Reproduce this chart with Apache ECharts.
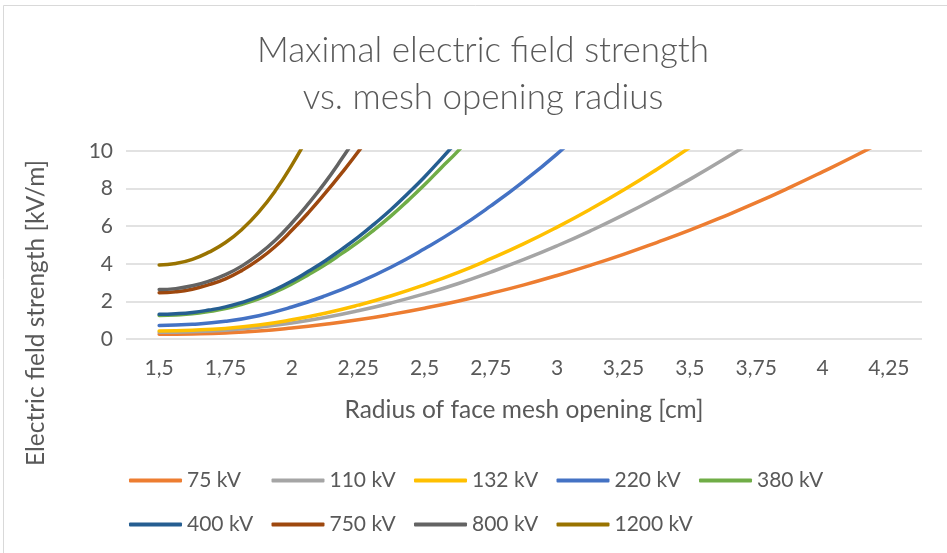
<!DOCTYPE html>
<html>
<head>
<meta charset="utf-8">
<script src="https://cdn.jsdelivr.net/npm/echarts@6/dist/echarts.min.js"></script>
<style>
  html, body { margin: 0; padding: 0; background: #ffffff; }
  #chart { width: 947px; height: 553px; }
</style>
</head>
<body>
<div id="chart"></div>
<script>
// Radius of the face mesh opening [cm] -> maximal field strength [kV/m]
const radiusTicks = [1.5, 1.75, 2, 2.25, 2.5, 2.75, 3, 3.25, 3.5, 3.75, 4, 4.25];
const fieldTicks = [0, 2, 4, 6, 8, 10];

const seriesNames = ['75 kV', '110 kV', '132 kV', '220 kV', '380 kV', '400 kV', '750 kV', '800 kV', '1200 kV'];

// sample radii, every 1/8 cm (lower voltages)
const radius = [1.5, 1.625, 1.75, 1.875, 2.0, 2.125, 2.25, 2.375, 2.5, 2.625, 2.75, 2.875,
                3.0, 3.125, 3.25, 3.375, 3.5, 3.625, 3.75, 3.875, 4.0, 4.125, 4.25];
// sample radii, every 1/16 cm (steep, high-voltage curves)
const radiusFine = [1.5, 1.5625, 1.625, 1.6875, 1.75, 1.8125, 1.875, 1.9375, 2.0, 2.0625,
                    2.125, 2.1875, 2.25, 2.3125, 2.375, 2.4375, 2.5, 2.5625, 2.625, 2.6875];

// field strength per voltage level at those radii (curves run off the top of the plot)
const kv75 = [0.25, 0.27, 0.32, 0.42, 0.58, 0.78, 1.02, 1.31, 1.64, 2.01, 2.43, 2.88,
              3.38, 3.92, 4.5, 5.13, 5.79, 6.5, 7.25, 8.05, 8.89, 9.76, 10.68];
const kv110 = [0.36, 0.39, 0.47, 0.62, 0.85, 1.14, 1.5, 1.92, 2.4, 2.94, 3.56, 4.23,
               4.96, 5.75, 6.6, 7.52, 8.49, 9.53, 10.64];
const kv132 = [0.43, 0.47, 0.56, 0.74, 1.02, 1.37, 1.8, 2.3, 2.88, 3.53, 4.27, 5.07,
               5.95, 6.9, 7.92, 9.02, 10.19];
const kv220 = [0.72, 0.78, 0.94, 1.24, 1.7, 2.29, 3.0, 3.83, 4.8, 5.87, 7.08, 8.4,
               9.85, 11.45];
const kv380 = [1.25, 1.28, 1.34, 1.46, 1.62, 1.85, 2.14, 2.5, 2.93, 3.42,
               3.95, 4.54, 5.15, 5.83, 6.56, 7.36, 8.2, 9.1, 9.98, 11.0];
const kv400 = [1.31, 1.34, 1.41, 1.54, 1.71, 1.95, 2.25, 2.63, 3.08, 3.6,
               4.15, 4.77, 5.42, 6.14, 6.9, 7.74, 8.62, 9.57, 10.55];
const kv750 = [2.46, 2.51, 2.65, 2.89, 3.2, 3.65, 4.22, 4.92, 5.78, 6.72,
               7.74, 8.82, 9.96, 11.18];
const kv800 = [2.63, 2.68, 2.83, 3.08, 3.42, 3.89, 4.5, 5.25, 6.17, 7.2,
               8.32, 9.57, 10.9];
const kv1200 = [3.94, 4.02, 4.24, 4.62, 5.13, 5.84, 6.75, 7.88, 9.25, 10.8];

const seriesData = [kv75, kv110, kv132, kv220, kv380, kv400, kv750, kv800, kv1200];
const seriesRadius = [radius, radius, radius, radius, radiusFine, radiusFine, radiusFine, radiusFine, radiusFine];
const seriesColors = ['#ED7D31', '#A5A5A5', '#FFC000', '#4472C4', '#70AD47', '#255E91', '#9E480E', '#636363', '#997300'];

const textColor = '#595959';
const fontFamily = 'Lato, "Open Sans", sans-serif';

const chart = echarts.init(document.getElementById('chart'), null, { renderer: 'canvas' });

function fmtComma(v) {
  return String(v).replace('.', ',');
}

// one legend block per entry, laid out in a fixed 5-column grid
const legends = seriesNames.map((name, i) => ({
  data: [name],
  left: 129 + (i % 5) * 142.5,
  top: (i < 5 ? 483 : 527) - 13,
  icon: 'roundRect',
  itemWidth: 53,
  itemHeight: 4,
  selectedMode: false,
  padding: 0,
  textStyle: { color: textColor, fontSize: 21, fontFamily: fontFamily }
}));

const option = {
  backgroundColor: '#ffffff',
  animation: false,
  title: {
    text: 'Maximal electric field strength\nvs. mesh opening radius',
    left: 478,
    top: 22,
    textAlign: 'center',
    textStyle: { color: textColor, fontSize: 35, fontWeight: 300, fontFamily: fontFamily, lineHeight: 47 }
  },
  legend: legends,
  grid: { left: 126, top: 151, width: 796, height: 188, containLabel: false },
  xAxis: {
    type: 'value',
    min: 1.375,
    max: 4.375,
    interval: 0.125,
    axisLine: { show: false },
    axisTick: { show: false },
    splitLine: { show: false },
    axisLabel: {
      color: textColor,
      fontSize: 21,
      fontFamily: fontFamily,
      margin: 19,
      formatter: function (v) {
        const hit = radiusTicks.find(t => Math.abs(t - v) < 1e-6);
        return hit === undefined ? '' : fmtComma(hit);
      }
    }
  },
  yAxis: {
    type: 'value',
    min: fieldTicks[0],
    max: fieldTicks[fieldTicks.length - 1],
    interval: fieldTicks[1] - fieldTicks[0],
    axisLine: { show: false },
    axisTick: { show: false },
    splitLine: { lineStyle: { color: '#D9D9D9', width: 1.5 } },
    axisLabel: { color: textColor, fontSize: 21, fontFamily: fontFamily, margin: 13 }
  },
  graphic: [
    {
      type: 'rect',
      silent: true,
      shape: { x: 3.5, y: 5.5, width: 960, height: 570 },
      style: { fill: 'none', stroke: '#D9D9D9', lineWidth: 1 }
    },
    {
      type: 'text',
      x: 524,
      y: 410,
      style: {
        text: 'Radius of face mesh opening [cm]',
        fill: textColor, fontSize: 24.5, fontFamily: fontFamily,
        align: 'center', verticalAlign: 'middle'
      }
    },
    {
      type: 'text',
      x: 36,
      y: 313,
      rotation: Math.PI / 2,
      style: {
        text: 'Electric field strength [kV/m]',
        fill: textColor, fontSize: 24.5, fontFamily: fontFamily,
        align: 'center', verticalAlign: 'middle'
      }
    }
  ],
  series: seriesNames.map((name, i) => ({
    name: name,
    type: 'line',
    data: seriesData[i].map((e, k) => [seriesRadius[i][k], e]),
    smooth: 0.5,
    showSymbol: false,
    clip: true,
    lineStyle: { color: seriesColors[i], width: 3.5, cap: 'round' },
    itemStyle: { color: seriesColors[i] }
  }))
};

chart.setOption(option);
</script>
</body>
</html>
